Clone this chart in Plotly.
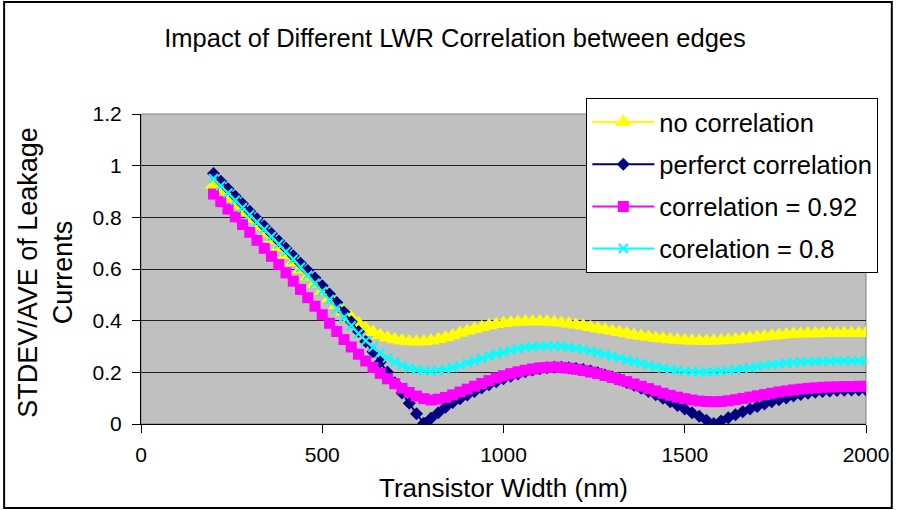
import plotly.graph_objects as go

# Transistor width grid (nm)
width_nm = list(range(200, 2001, 20))

no_corr = [
    0.925, 0.900, 0.873, 0.846, 0.820, 0.793, 0.765, 0.737, 0.710, 0.682,
    0.654, 0.626, 0.598, 0.570, 0.542, 0.514, 0.486, 0.460, 0.435, 0.412,
    0.390, 0.370, 0.355, 0.343, 0.334, 0.327, 0.322, 0.319, 0.318, 0.319,
    0.322, 0.328, 0.335, 0.343, 0.352, 0.360, 0.368, 0.375, 0.381, 0.386,
    0.390, 0.393, 0.395, 0.396, 0.397, 0.397, 0.396, 0.394, 0.391, 0.388,
    0.384, 0.380, 0.375, 0.370, 0.365, 0.360, 0.355, 0.350, 0.345, 0.341,
    0.337, 0.333, 0.330, 0.327, 0.325, 0.323, 0.322, 0.321, 0.321, 0.322,
    0.323, 0.325, 0.327, 0.330, 0.333, 0.336, 0.339, 0.342, 0.344, 0.346,
    0.348, 0.349, 0.350, 0.350, 0.351, 0.351, 0.351, 0.351, 0.351, 0.351,
    0.351,
]

perfect_corr = [
    0.970, 0.940, 0.911, 0.882, 0.853, 0.824, 0.795, 0.766, 0.737, 0.708,
    0.680, 0.651, 0.622, 0.594, 0.565, 0.535, 0.503, 0.470, 0.434, 0.396,
    0.358, 0.319, 0.280, 0.240, 0.200, 0.160, 0.120, 0.080, 0.040, 0.003,
    0.022, 0.044, 0.065, 0.083, 0.098, 0.112, 0.126, 0.139, 0.152, 0.164,
    0.175, 0.185, 0.194, 0.202, 0.209, 0.214, 0.218, 0.220, 0.220, 0.218,
    0.215, 0.211, 0.205, 0.198, 0.190, 0.182, 0.172, 0.161, 0.150, 0.138,
    0.126, 0.113, 0.100, 0.086, 0.072, 0.058, 0.044, 0.030, 0.015, 0.002,
    0.012, 0.024, 0.036, 0.047, 0.058, 0.068, 0.077, 0.086, 0.094, 0.101,
    0.108, 0.114, 0.119, 0.123, 0.126, 0.128, 0.130, 0.131, 0.132, 0.132,
    0.132,
]

corr_092 = [
    0.890, 0.861, 0.832, 0.802, 0.772, 0.742, 0.711, 0.680, 0.649, 0.617,
    0.585, 0.553, 0.521, 0.489, 0.456, 0.423, 0.390, 0.358, 0.327, 0.298,
    0.270, 0.244, 0.219, 0.196, 0.175, 0.156, 0.138, 0.122, 0.108, 0.098,
    0.093, 0.096, 0.103, 0.113, 0.124, 0.135, 0.146, 0.157, 0.168, 0.178,
    0.187, 0.195, 0.202, 0.208, 0.213, 0.217, 0.219, 0.220, 0.219, 0.216,
    0.212, 0.207, 0.201, 0.195, 0.188, 0.180, 0.172, 0.164, 0.155, 0.146,
    0.137, 0.128, 0.119, 0.111, 0.104, 0.098, 0.093, 0.089, 0.087, 0.086,
    0.087, 0.090, 0.094, 0.099, 0.104, 0.109, 0.114, 0.119, 0.124, 0.128,
    0.132, 0.135, 0.138, 0.140, 0.142, 0.143, 0.144, 0.145, 0.145, 0.146,
    0.146,
]

corr_08 = [
    0.950, 0.922, 0.894, 0.866, 0.838, 0.810, 0.782, 0.754, 0.726, 0.697,
    0.668, 0.638, 0.607, 0.576, 0.545, 0.514, 0.482, 0.448, 0.413, 0.380,
    0.350, 0.322, 0.297, 0.275, 0.256, 0.240, 0.227, 0.217, 0.210, 0.206,
    0.205, 0.207, 0.212, 0.219, 0.227, 0.236, 0.245, 0.254, 0.263, 0.271,
    0.278, 0.285, 0.291, 0.296, 0.299, 0.301, 0.302, 0.302, 0.300, 0.297,
    0.293, 0.288, 0.282, 0.276, 0.269, 0.262, 0.255, 0.248, 0.241, 0.234,
    0.227, 0.221, 0.216, 0.211, 0.207, 0.204, 0.202, 0.201, 0.201, 0.202,
    0.204, 0.207, 0.210, 0.214, 0.218, 0.222, 0.226, 0.230, 0.233, 0.236,
    0.238, 0.240, 0.241, 0.242, 0.243, 0.243, 0.244, 0.244, 0.244, 0.244,
    0.244,
]

series_names = ["no correlation", "perferct correlation",
                "correlation = 0.92", "corelation = 0.8"]
series_values = [no_corr, perfect_corr, corr_092, corr_08]
series_colors = ["#FFFF00", "#000080", "#FF00FF", "#00FFFF"]
series_symbols = ["triangle-up", "diamond", "square", "x-thin"]
series_sizes = [15, 10, 11, 9]

FONT = "Arial, Liberation Sans, sans-serif"

fig = go.Figure()
for name, vals, col, sym, sz in zip(series_names, series_values, series_colors,
                                    series_symbols, series_sizes):
    marker = dict(symbol=sym, size=sz, color=col)
    if sym == "x-thin":
        marker["line"] = dict(color=col, width=2)
    else:
        marker["line"] = dict(width=0)
    fig.add_trace(go.Scatter(
        x=width_nm, y=vals, name=name, mode="lines+markers",
        line=dict(color=col, width=2), marker=marker,
        legendgroup=name,
    ))

L, R, T, B = 141, 29, 114, 86
W, H = 901, 510
pw, ph = W - L - R, H - T - B

def px_x(p):
    return (p - L) / pw

def px_y(p):
    return (H - B - p) / ph

fig.update_layout(
    width=W, height=H,
    margin=dict(l=L, r=R, t=T, b=B, pad=0),
    paper_bgcolor="white",
    plot_bgcolor="#C0C0C0",
    font=dict(family=FONT, color="black", size=21),
    title=dict(text="Impact of Different LWR Correlation between edges",
               font=dict(size=25.5, family=FONT, color="black"),
               xref="container", x=0.505, xanchor="center",
               yref="container", y=1 - 38 / H, yanchor="middle"),
    xaxis=dict(range=[0, 2000], dtick=500, tick0=0, showgrid=False,
               zeroline=False, showline=True, linecolor="black", linewidth=1,
               ticks="outside", ticklen=8, tickcolor="black",
               tickfont=dict(size=21), ticklabelstandoff=4),
    yaxis=dict(range=[0, 1.2], dtick=0.2, tick0=0, showgrid=True,
               gridcolor="#202020", gridwidth=1, zeroline=False,
               showline=True, linecolor="black", linewidth=1,
               ticks="outside", ticklen=8, tickcolor="black",
               tickfont=dict(size=21), ticklabelstandoff=6),
    legend=dict(x=px_x(590), y=px_y(98), xanchor="left", yanchor="top",
                bgcolor="white", bordercolor="black", borderwidth=1,
                font=dict(size=25.5, family=FONT, color="black"),
                itemwidth=62, tracegroupgap=6),
    showlegend=True,
)

# x-axis title
fig.add_annotation(text="Transistor Width (nm)", xref="paper", yref="paper",
                   x=px_x(506), y=px_y(488), xanchor="center", yanchor="middle",
                   showarrow=False, font=dict(size=26, family=FONT))
# y-axis title (two lines, rotated)
fig.add_annotation(text="STDEV/AVE of Leakage<br>Currents", xref="paper",
                   yref="paper", x=px_x(44), y=px_y(272), xanchor="center",
                   yanchor="middle", textangle=-90, showarrow=False,
                   font=dict(size=27, family=FONT))

# plot-area frame (top/right edges in gray)
fig.add_shape(type="rect", xref="paper", yref="paper", x0=0, y0=0, x1=1, y1=1,
              line=dict(color="#808080", width=1), layer="below")
# outer chart frame
fig.add_shape(type="rect", xref="paper", yref="paper",
              x0=px_x(3), x1=px_x(898), y0=px_y(508), y1=px_y(2),
              line=dict(color="black", width=2))

fig.write_html("out.html")
